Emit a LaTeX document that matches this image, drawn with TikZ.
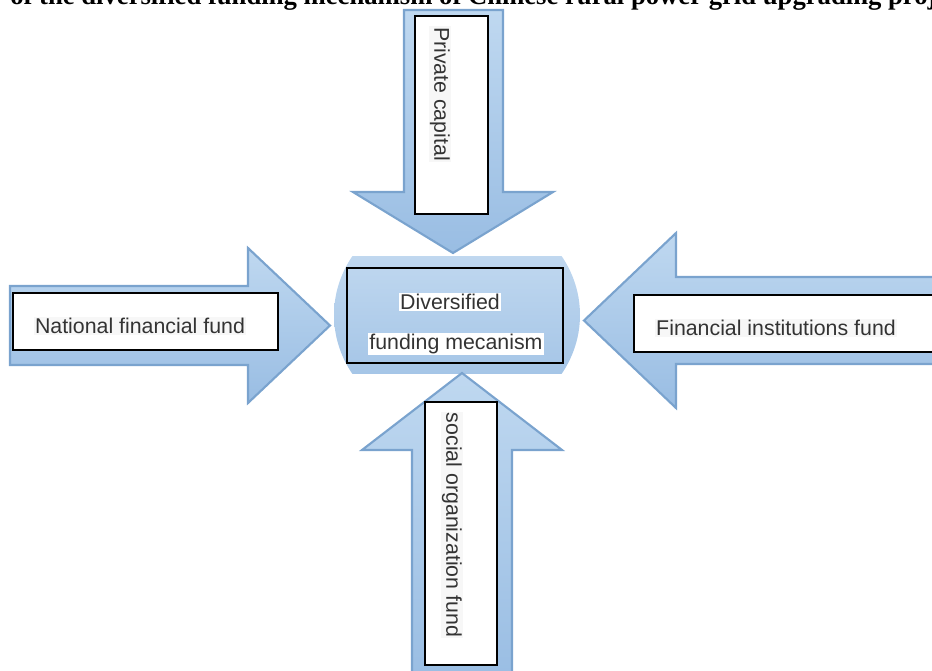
\documentclass[tikz,border=0pt]{standalone}
\usepackage{fontspec}
\setmainfont{Liberation Serif}
\setsansfont{Liberation Sans}
\definecolor{arrowtop}{HTML}{BFD8F0}
\definecolor{arrowbot}{HTML}{99BDE3}
\definecolor{arrowline}{HTML}{7AA3CE}
\definecolor{textgray}{HTML}{333333}
\tikzset{
  blockarrow/.style={draw=arrowline,line width=1.6pt,line join=miter,top color=arrowtop,bottom color=arrowbot},
  fundbox/.style={draw=black,line width=1.5pt,fill=white,inner sep=0pt},
  fundtext/.style={font=\sffamily\fontsize{16}{18}\selectfont,text=textgray,fill=gray!6,inner sep=1pt}
}
\begin{document}
\begin{tikzpicture}[x=0.75pt,y=-0.75pt]
  \useasboundingbox (0,0) rectangle (932,671);
  \clip (0,0) rectangle (932,671);

  % Title (cut by the top edge)
  \node[anchor=base west,inner sep=0pt,font=\bfseries\fontsize{20}{22}\selectfont] (title) at (10,4)
    {of the diversified funding mechanism of Chinese rural power grid upgrading proj};

  % Centre barrel
  \begin{scope}
    \clip (300,256) rectangle (620,373);
    \shade[top color=arrowtop!80!white,bottom color=arrowbot] (457,315) ellipse [x radius=123,y radius=112];
  \end{scope}
  \node[fundbox,fill=none,minimum width=216*0.75pt,minimum height=95*0.75pt] (centrebox) at (455,315.5) {};
  \node[fundtext,fill=white] (div) at (450,302) {Diversified};
  \node[fundtext,fill=white] (mec) at (456,344) {funding mecanism};

  % Top arrow
  \draw[blockarrow] (404,10) -- (503,10) -- (503,192) -- (553,192) -- (453,253)
    -- (353,192) -- (404,192) -- cycle;
  \node[fundbox,minimum width=73*0.75pt,minimum height=198*0.75pt] (privbox) at (451.5,115) {};
  \node[fundtext,rotate=-90] (priv) at (440,94) {Private capital};

  % Left arrow
  \draw[blockarrow] (10,286) -- (248,286) -- (248,248) -- (330,325.5)
    -- (248,403) -- (248,365) -- (10,365) -- cycle;
  \node[fundbox,minimum width=265*0.75pt,minimum height=57*0.75pt] (natbox) at (145.5,321.5) {};
  \node[fundtext] (nat) at (140,326) {National financial fund};

  % Right arrow
  \draw[blockarrow] (945,277) -- (676,277) -- (676,233) -- (584,320.5)
    -- (676,408) -- (676,364) -- (945,364) -- cycle;
  \node[fundbox,minimum width=310*0.75pt,minimum height=57*0.75pt] (finbox) at (789,323.5) {};
  \node[fundtext] (fin) at (776,328) {Financial institutions fund};

  % Bottom arrow
  \draw[blockarrow] (412,685) -- (412,450) -- (362,450) -- (462,373)
    -- (562,450) -- (512,450) -- (512,685) -- cycle;
  \node[fundbox,minimum width=72*0.75pt,minimum height=263*0.75pt] (socbox) at (461,533.5) {};
  \node[fundtext,rotate=-90] (soc) at (452,525) {social organization fund};
\end{tikzpicture}
\end{document}
